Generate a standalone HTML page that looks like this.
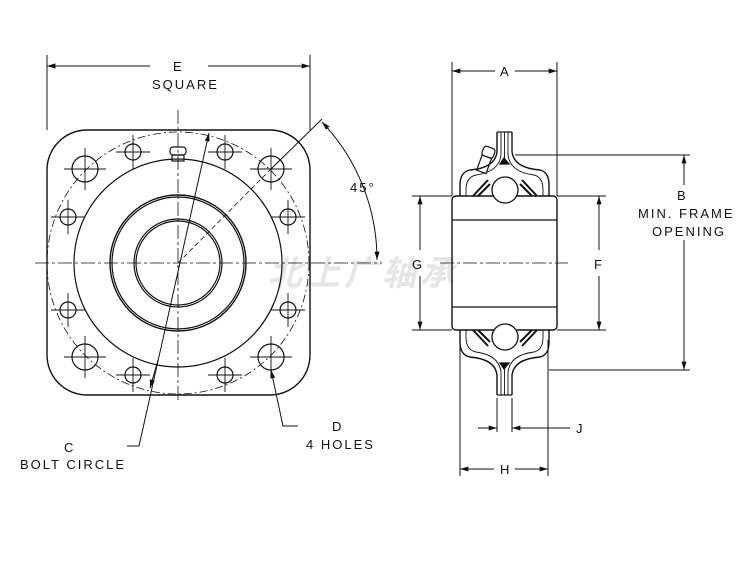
<!DOCTYPE html>
<html><head><style>
html,body{margin:0;padding:0;background:#fff}
svg{display:block}
text{font-family:"Liberation Sans",sans-serif;font-size:13px;fill:#111;letter-spacing:2px}
</style></head><body>
<svg width="750" height="562" viewBox="0 0 750 562" xmlns="http://www.w3.org/2000/svg">
<defs>
<marker id="a" viewBox="0 0 10 6" refX="10" refY="3" markerWidth="10" markerHeight="5" orient="auto-start-reverse" markerUnits="userSpaceOnUse"><path d="M0,0 L10,3 L0,6z" fill="#111"/></marker>
</defs>
<g stroke="#111" fill="none" stroke-width="1.2">
<!-- watermark -->
<text x="268" y="285" style="font-family:'Noto Sans CJK SC',sans-serif;font-size:34px;font-weight:bold;fill:#e6e6e6;letter-spacing:4px;font-style:italic" stroke="none">北上广轴承</text>

<!-- LEFT VIEW -->
<rect x="47" y="130" width="263" height="265" rx="40" stroke-width="1.4"/>
<circle cx="178" cy="263" r="131" stroke-width="0.8" stroke-dasharray="8,3,2,3"/>
<circle cx="178" cy="263" r="104"/>
<circle cx="178" cy="263" r="68" stroke-width="1.4"/>
<circle cx="178" cy="263" r="66"/>
<circle cx="178" cy="263" r="44"/>
<circle cx="178" cy="263" r="42"/>
<!-- grease fitting -->
<rect x="170" y="147" width="16" height="8" rx="3"/>
<rect x="172" y="155" width="12" height="6"/>
<!-- big holes -->
<g>
<circle cx="85" cy="169" r="13"/><circle cx="271" cy="169" r="13"/>
<circle cx="85" cy="357" r="13"/><circle cx="271" cy="357" r="13"/>
<circle cx="133" cy="152" r="8"/><circle cx="225" cy="152" r="8"/>
<circle cx="68" cy="217" r="8"/><circle cx="288" cy="217" r="8"/>
<circle cx="68" cy="310" r="8"/><circle cx="288" cy="310" r="8"/>
<circle cx="133" cy="375" r="8"/><circle cx="225" cy="375" r="8"/>
</g>
<g stroke-width="0.9">
<path d="M64,169H106M85,148V190M250,169H292M271,148V190M64,357H106M85,336V378M250,357H292M271,336V378"/>
<path d="M116,152H150M133,135V169M208,152H242M225,135V169M116,375H150M133,358V392M208,375H242M225,358V392"/>
<path d="M51,217H85M68,200V234M271,217H305M288,200V234M51,310H85M68,293V327M271,310H305M288,293V327"/>
</g>
<!-- centerlines -->
<path d="M35,263H382M178,110V402" stroke-width="0.8" stroke-dasharray="14,3,3,3"/>
<path d="M178,263L271,169" stroke-width="0.8" stroke-dasharray="5,3"/>
<path d="M271,169L322,119" stroke-width="1"/>
<path d="M322,122 A200 200 0 0 1 377 260" marker-start="url(#a)" marker-end="url(#a)" stroke-width="1"/>
<!-- E dim -->
<path d="M47,55V130M310,55V130" stroke-width="1"/>
<path d="M47,66H150M208,66H310" marker-start="url(#a)" stroke-width="1"/>
<path d="M150,66H47" marker-end="url(#a)" stroke-width="1"/>
<path d="M208,66H310" marker-end="url(#a)" stroke-width="1"/>
<!-- C leader -->
<path d="M209,133L139,446H127" stroke-width="1" marker-start="url(#a)"/>
<path d="M158,360L150,388" stroke-width="1" marker-end="url(#a)"/>
<!-- D leader -->
<path d="M271,370L283,426H298" stroke-width="1" marker-start="url(#a)"/>

<!-- RIGHT VIEW -->
<path d="M452,62V196M557,62V196" stroke-width="1"/>
<path d="M495,71H452" marker-end="url(#a)" stroke-width="1"/>
<path d="M515,71H557" marker-end="url(#a)" stroke-width="1"/>
<!-- housing -->
<path d="M497,132V152Q495,168 470,170Q460,172 460,185V196M512,132V152Q514,168 540,170Q549,172 549,185V196" stroke-width="1.4"/>
<path d="M501,132V155Q499,172 476,175Q466,177 466,190V196M508,132V155Q510,172 534,175Q543,177 543,190V196" stroke-width="0.9"/>
<path d="M504.5,132V160" stroke-width="0.9"/>
<path d="M497,132H512"/>
<path d="M497,395V375Q495,359 470,357Q460,355 460,342V330M512,395V375Q514,359 540,357Q549,355 549,342V330" stroke-width="1.4"/>
<path d="M501,395V372Q499,355 476,352Q466,350 466,337V330M508,395V372Q510,355 534,352Q543,350 543,337V330" stroke-width="0.9"/>
<path d="M504.5,395V367" stroke-width="0.9"/>
<path d="M497,395H512"/>
<!-- seals -->
<path d="M473,196L488,180M478,196L490,184M537,196L522,180M532,196L520,184M473,330L488,346M478,330L490,342M537,330L522,346M532,330L520,342" stroke-width="2"/>
<path d="M500,164L504,158L509,164Z M500,363L504,369L509,363Z" fill="#111"/>
<!-- grease fitting side -->
<g transform="rotate(20 482 170)"><rect x="476" y="146" width="12" height="10" rx="3"/><rect x="477" y="156" width="10" height="16"/></g>
<!-- inner ring -->
<rect x="452" y="196" width="105" height="134" rx="4" stroke-width="1.4"/>
<path d="M452,220H557M452,307H557"/>
<circle cx="505" cy="190" r="13" fill="#fff" stroke-width="1.3"/>
<circle cx="505" cy="337" r="13" fill="#fff" stroke-width="1.3"/>
<path d="M440,263H568" stroke-width="0.8" stroke-dasharray="14,3,3,3"/>
<!-- G -->
<path d="M412,196H452M412,330H452" stroke-width="1"/>
<path d="M420,250V196" marker-end="url(#a)" stroke-width="1"/>
<path d="M420,276V330" marker-end="url(#a)" stroke-width="1"/>
<!-- F -->
<path d="M557,196H606M557,330H606" stroke-width="1"/>
<path d="M599,250V196" marker-end="url(#a)" stroke-width="1"/>
<path d="M599,276V330" marker-end="url(#a)" stroke-width="1"/>
<!-- B -->
<path d="M515,155H690M549,370H690" stroke-width="1"/>
<path d="M684,185V155" marker-end="url(#a)" stroke-width="1"/>
<path d="M684,240V370" marker-end="url(#a)" stroke-width="1"/>
<!-- J -->
<path d="M497,398V432M512,398V432" stroke-width="1"/>
<path d="M478,428H497" marker-end="url(#a)" stroke-width="1"/>
<path d="M570,428H512" marker-end="url(#a)" stroke-width="1"/>
<!-- H -->
<path d="M460,340V476M548,340V476" stroke-width="1"/>
<path d="M494,469H460" marker-end="url(#a)" stroke-width="1"/>
<path d="M515,469H548" marker-end="url(#a)" stroke-width="1"/>
</g>
<g>
<text x="173" y="71">E</text>
<text x="152" y="89">SQUARE</text>
<text x="350" y="192">45°</text>
<text x="64" y="452">C</text>
<text x="20" y="469">BOLT CIRCLE</text>
<text x="332" y="431">D</text>
<text x="306" y="449">4 HOLES</text>
<text x="500" y="76">A</text>
<text x="677" y="200">B</text>
<text x="638" y="218">MIN. FRAME</text>
<text x="652" y="236">OPENING</text>
<text x="412" y="269">G</text>
<text x="594" y="269">F</text>
<text x="576" y="433">J</text>
<text x="500" y="474">H</text>
</g>
</svg>
</body></html>
